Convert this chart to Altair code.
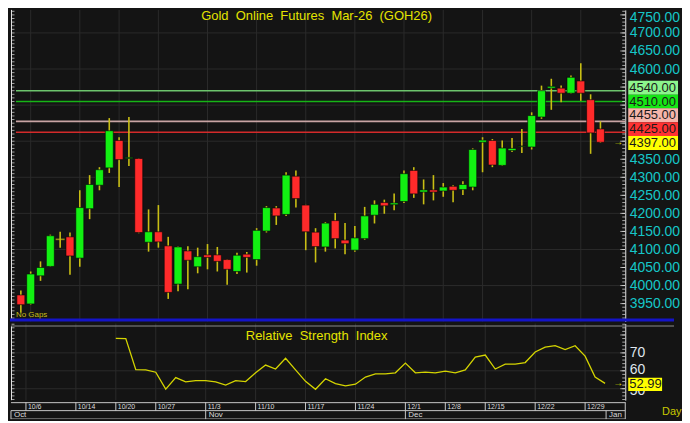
import altair as alt
import pandas as pd

# ---------------- data ----------------
opens = [3974, 3949, 4027, 4053, 4128, 4135, 4076, 4213, 4278, 4326,
         4402, 4352, 4352, 4120, 4149, 4110, 4004, 4096, 4052, 4085,
         4085, 4072, 4039, 4087, 4072, 4151, 4215, 4197, 4303, 4223,
         4148, 4107, 4180, 4126, 4098, 4130, 4195, 4230, 4224, 4233,
         4319, 4259, 4265, 4262, 4275, 4266, 4273, 4397, 4402, 4333,
         4374, 4385, 4384, 4467, 4547, 4547, 4533, 4567, 4515, 4434]
highs = [3986, 4039, 4067, 4141, 4149, 4147, 4264, 4306, 4328, 4464,
         4411, 4467, 4353, 4211, 4223, 4135, 4108, 4109, 4105, 4115,
         4107, 4073, 4091, 4093, 4159, 4220, 4220, 4314, 4319, 4224,
         4159, 4176, 4201, 4173, 4165, 4218, 4236, 4238, 4255, 4319,
         4328, 4294, 4306, 4284, 4278, 4289, 4380, 4411, 4406, 4402,
         4409, 4434, 4480, 4554, 4573, 4554, 4582, 4616, 4530, 4455]
lows = [3925, 3947, 4013, 4052, 4105, 4030, 4052, 4184, 4264, 4312,
        4273, 4331, 4145, 4094, 4105, 3963, 3984, 3990, 4034, 4045,
        4039, 4002, 4032, 4036, 4055, 4147, 4168, 4193, 4216, 4098,
        4064, 4094, 4103, 4087, 4094, 4127, 4172, 4199, 4209, 4229,
        4243, 4225, 4236, 4246, 4231, 4251, 4264, 4314, 4328, 4331,
        4370, 4367, 4377, 4462, 4487, 4508, 4532, 4512, 4365, 4395]
closes = [3947, 4032, 4050, 4138, 4128, 4082, 4216, 4280, 4321, 4429,
          4349, 4355, 4147, 4149, 4121, 3981, 4107, 4070, 4080, 4078,
          4067, 4045, 4084, 4078, 4153, 4216, 4193, 4306, 4241, 4149,
          4108, 4173, 4130, 4116, 4132, 4193, 4225, 4221, 4229, 4310,
          4254, 4265, 4259, 4273, 4264, 4280, 4377, 4403, 4334, 4381,
          4380, 4387, 4471, 4540, 4552, 4533, 4577, 4533, 4423, 4397]

rsi_first_bar = 10
rsi_values = [78.1, 78.0, 60.6, 60.5, 59.2, 49.8, 56.2, 53.8, 54.5, 54.5,
              53.8, 52.0, 54.5, 54.0, 58.9, 63.2, 61.0, 67.0, 60.5, 54.1,
              49.7, 55.6, 52.9, 51.6, 52.5, 56.5, 58.3, 58.3, 58.9, 64.3,
              58.9, 59.3, 58.9, 59.8, 58.9, 60.5, 67.7, 68.8, 61.0, 63.7,
              63.7, 64.6, 70.5, 73.2, 74.0, 71.8, 74.0, 68.2, 56.5, 52.99]

date_tick_bars = [1, 6, 10, 14, 19, 24, 29, 34, 39, 43, 47, 52, 57]
date_tick_labels = ["10/6", "10/14", "10/20", "10/27", "11/3", "11/10", "11/17",
                    "11/24", "12/1", "12/8", "12/15", "12/22", "12/29"]
month_tick_bars = [-0.5, 19, 39, 59.1]
month_labels = ["Oct", "Nov", "Dec", "Jan"]

level_prices = [4540, 4510, 4455, 4425]
level_labels = ["4540.00", "4510.00", "4455.00", "4425.00"]
last_price = 4397
last_price_label = "4397.00"
last_rsi = 52.99
last_rsi_label = "52.99"

price_axis_labels = [3950, 4000, 4050, 4100, 4150, 4200, 4250, 4300, 4350,
                     4600, 4650, 4700, 4750]
price_grid = [4000, 4100, 4200, 4300, 4400, 4500, 4600, 4700]
price_minor_ticks = list(range(3910, 4770, 10))
price_major_ticks = list(range(3950, 4800, 50))
rsi_axis_labels = [50, 60, 70]
rsi_grid = [50, 60, 70]
rsi_minor_ticks = list(range(44, 88, 2))
rsi_major_ticks = [50, 60, 70, 80]

title_text = "Gold\u00a0\u00a0Online\u00a0\u00a0Futures\u00a0\u00a0Mar-26\u00a0\u00a0(GOH26)"
rsi_title_text = "Relative\u00a0\u00a0Strength\u00a0\u00a0Index"
no_gaps_text = "No Gaps"
period_text = "Day"

# ---------------- styles ----------------
W = 617
H_PRICE = 313
H_RSI = 77
H_DATE = 17
PX_PER_USD = 0.3625          # vertical pixels per price unit of the price scale
PX_PER_RSI = 1.8             # vertical pixels per RSI unit
BG = "#141414"
GRID = "#2a2a2a"
FONT = "Liberation Sans"
CYAN = "#16c6c8"
YELLOW_TXT = "#e4e400"
WICK = "#c8be14"
GREEN = "#12f012"
RED = "#ff2a2a"
AXIS_WHITE = "#e6e6e6"
level_line_colors = ["#6cc46c", "#16b416", "#c8a4a4", "#d42a2a"]
box_fills = ["#8cf58c", "#14e614", "#f5b4aa", "#ff3232", "#ffff00"]
box_nudge_px = [-2.9, 0.1, -6.2, -2.9, 0.8]   # label boxes stacked to avoid overlap
BOX_HALF_PX = 7.0
rsi_box_nudge_px = 1.0

x_scale = alt.Scale(domain=[-0.4985, 61.02], nice=False, zero=False)
p_scale = alt.Scale(domain=[3900.34, 4763.79], nice=False, zero=False)
r_scale = alt.Scale(domain=[43.61, 86.39], nice=False, zero=False)

p_axis = alt.Axis(orient="right", values=price_axis_labels, format=".2f", title=None,
                  labelColor=CYAN, labelFont=FONT, labelFontSize=14, labelPadding=4,
                  labelOffset={"condition": {"test": "datum.value === 4750", "value": 2.2},
                               "value": 0},
                  domainColor=AXIS_WHITE, ticks=False, grid=False, labelOverlap=False)
r_axis = alt.Axis(orient="right", values=rsi_axis_labels, format="d", title=None,
                  labelColor="#dfe6ee", labelFont=FONT, labelFontSize=14, labelPadding=4,
                  labelOffset={"condition": [{"test": "datum.value === 50", "value": 2},
                                             {"test": "datum.value === 60", "value": -1}],
                               "value": 0},
                  domainColor=AXIS_WHITE, ticks=False, grid=False, labelOverlap=False)


def X(f):
    return alt.X(f, type="quantitative", scale=x_scale, axis=None)


def YP(f):
    return alt.Y(f, type="quantitative", scale=p_scale, axis=p_axis)


def YR(f):
    return alt.Y(f, type="quantitative", scale=r_scale, axis=r_axis)


bars = pd.DataFrame({"bar": list(range(len(opens))), "open": opens, "high": highs,
                     "low": lows, "close": closes})
rsi_df = pd.DataFrame({"bar": list(range(rsi_first_bar, rsi_first_bar + len(rsi_values))),
                       "rsi": rsi_values})
dates_df = pd.DataFrame({"bar": date_tick_bars, "label": date_tick_labels})
months_df = pd.DataFrame({"bar": month_tick_bars, "label": month_labels})
levels_df = pd.DataFrame({"price": level_prices, "col": level_line_colors})
boxes_df = pd.DataFrame({"price": level_prices + [last_price],
                         "label": level_labels + [last_price_label],
                         "fill": box_fills, "nudge": box_nudge_px})
one = pd.DataFrame({"k": [0]})

# ---------------- price panel ----------------
p_grid = alt.Chart(pd.DataFrame({"p": price_grid})).mark_rule(color=GRID).encode(y=YP("p"))
v_grid = alt.Chart(dates_df).mark_rule(color=GRID).encode(x=X("bar"))
left_line = alt.Chart(one).mark_rule(color=AXIS_WHITE).encode(
    x=alt.value(0.5), y=alt.value(0), y2=alt.value(310))
left_ticks = alt.Chart(pd.DataFrame({"p": price_minor_ticks})).mark_tick(
    color=AXIS_WHITE, thickness=1, size=3, orient="horizontal").encode(
    y=YP("p"), x=alt.value(2))
levels = alt.Chart(levels_df).mark_rule(strokeWidth=1.6).encode(
    y=YP("price"), x=alt.value(5), x2=alt.value(W),
    color=alt.Color("col:N", scale=None))
wicks = alt.Chart(bars).mark_rule(color=WICK, strokeWidth=1.6).encode(
    x=X("bar"), y=YP("low"), y2="high")
bodies = alt.Chart(bars).transform_filter("datum.open != datum.close").mark_bar(
    size=8, stroke="#060606", strokeWidth=0.6).encode(
    x=X("bar"), y=YP("open"), y2="close",
    color=alt.condition("datum.close > datum.open", alt.value(GREEN), alt.value(RED)))
dojis = alt.Chart(bars).transform_filter("datum.open == datum.close").mark_tick(
    color=WICK, thickness=1.6, size=9, orient="horizontal").encode(
    x=X("bar"), y=YP("close"))
r_minor = alt.Chart(pd.DataFrame({"p": price_minor_ticks})).mark_tick(
    color=AXIS_WHITE, thickness=1, size=3, orient="horizontal").encode(
    y=YP("p"), x=alt.value(W - 1.5))
r_major = alt.Chart(pd.DataFrame({"p": price_major_ticks})).mark_tick(
    color=AXIS_WHITE, thickness=1, size=5, orient="horizontal").encode(
    y=YP("p"), x=alt.value(W - 2.5))
boxes_base = alt.Chart(boxes_df).transform_calculate(
    c=f"datum.price - datum.nudge / {PX_PER_USD}").transform_calculate(
    lo=f"datum.c - {BOX_HALF_PX} / {PX_PER_USD}", hi=f"datum.c + {BOX_HALF_PX} / {PX_PER_USD}")
boxes = boxes_base.mark_rect().encode(
    x=alt.value(W + 3), x2=alt.value(W + 53), y=YP("lo"), y2="hi",
    color=alt.Color("fill:N", scale=None))
box_text = boxes_base.mark_text(
    align="left", baseline="middle", font=FONT, fontSize=13, color="#1a1a1a").encode(
    x=alt.value(W + 4), y=YP("c"), text="label:N")
arrow_p = alt.Chart(pd.DataFrame({"p": [last_price], "t": ["→"]})).mark_text(
    color=YELLOW_TXT, fontSize=10, align="center", baseline="middle").encode(
    x=alt.value(W - 7), y=YP("p"), text="t:N")
title = alt.Chart(pd.DataFrame({"t": [title_text]})).mark_text(
    font=FONT, fontSize=13, color=YELLOW_TXT, align="center", baseline="top").encode(
    x=alt.value(307), y=alt.value(0), text="t:N")
no_gaps = alt.Chart(pd.DataFrame({"t": [no_gaps_text]})).mark_text(
    font=FONT, fontSize=8, color=WICK, align="left", baseline="middle").encode(
    x=alt.value(5), y=alt.value(306), text="t:N")
blue_sep = alt.Chart(one).mark_rule(color="#1414c8", strokeWidth=3).encode(
    x=alt.value(-1), x2=alt.value(666), y=alt.value(311.5))

price_chart = alt.layer(
    p_grid, v_grid, left_line, left_ticks, levels, wicks, bodies, dojis,
    r_minor, r_major, boxes, box_text, arrow_p, title, no_gaps, blue_sep
).properties(width=W, height=H_PRICE)

# ---------------- RSI panel ----------------
rg = alt.Chart(pd.DataFrame({"r": rsi_grid})).mark_rule(color=GRID).encode(y=YR("r"))
rvg = alt.Chart(dates_df).mark_rule(color=GRID).encode(x=X("bar"))
r_top = alt.Chart(one).mark_rule(color="#8a8a8a").encode(
    x=alt.value(0), x2=alt.value(666), y=alt.value(2.5))
r_left = alt.Chart(one).mark_rule(color=AXIS_WHITE).encode(
    x=alt.value(0.5), y=alt.value(3), y2=alt.value(H_RSI))
r_left_ticks = alt.Chart(pd.DataFrame({"r": rsi_minor_ticks})).mark_tick(
    color=AXIS_WHITE, thickness=1, size=3, orient="horizontal").encode(
    y=YR("r"), x=alt.value(2))
r_line = alt.Chart(rsi_df).mark_line(color="#d4d400", strokeWidth=1.3).encode(
    x=X("bar"), y=YR("rsi"))
rr_minor = alt.Chart(pd.DataFrame({"r": rsi_minor_ticks})).mark_tick(
    color=AXIS_WHITE, thickness=1, size=3, orient="horizontal").encode(
    y=YR("r"), x=alt.value(W - 1.5))
rr_major = alt.Chart(pd.DataFrame({"r": rsi_major_ticks})).mark_tick(
    color=AXIS_WHITE, thickness=1, size=5, orient="horizontal").encode(
    y=YR("r"), x=alt.value(W - 2.5))
r_title = alt.Chart(pd.DataFrame({"t": [rsi_title_text]})).mark_text(
    font=FONT, fontSize=13, color=YELLOW_TXT, align="center", baseline="middle").encode(
    x=alt.value(307), y=alt.value(12.5), text="t:N")
rsi_box_df = pd.DataFrame({"r": [last_rsi], "label": [last_rsi_label], "t": ["→"]})
r_box_base = alt.Chart(rsi_box_df).transform_calculate(
    c=f"datum.r - {rsi_box_nudge_px} / {PX_PER_RSI}").transform_calculate(
    lo=f"datum.c - 6.6 / {PX_PER_RSI}", hi=f"datum.c + 6.6 / {PX_PER_RSI}")
r_box = r_box_base.mark_rect(color="#ffff00").encode(
    x=alt.value(W + 3), x2=alt.value(W + 37), y=YR("lo"), y2="hi")
r_box_text = r_box_base.mark_text(
    align="left", baseline="middle", font=FONT, fontSize=13, color="#1a1a1a").encode(
    x=alt.value(W + 4), y=YR("c"), text="label:N")
r_arrow = alt.Chart(rsi_box_df).mark_text(
    color=YELLOW_TXT, fontSize=10, align="center", baseline="middle").encode(
    x=alt.value(W - 7), y=YR("r"), text="t:N")

rsi_chart = alt.layer(
    rg, rvg, r_top, r_left, r_left_ticks, r_line, rr_minor, rr_major,
    r_title, r_box, r_box_text, r_arrow
).properties(width=W, height=H_RSI)

# ---------------- date rows ----------------
ROW_COL = "#c8c8c8"
d_top = alt.Chart(one).mark_rule(color=ROW_COL).encode(
    x=alt.value(0), x2=alt.value(W), y=alt.value(0.5))
d_mid = alt.Chart(one).mark_rule(color=ROW_COL).encode(
    x=alt.value(0), x2=alt.value(W), y=alt.value(8.5))
d_bot = alt.Chart(one).mark_rule(color="#6a6a6a").encode(
    x=alt.value(0), x2=alt.value(W), y=alt.value(16.5))
d_right = alt.Chart(one).mark_rule(color=ROW_COL).encode(
    x=alt.value(W), y=alt.value(0), y2=alt.value(H_DATE))
d_sep = alt.Chart(dates_df).mark_rule(color=ROW_COL).encode(
    x=X("bar"), y=alt.value(0), y2=alt.value(8.5))
d_lab = alt.Chart(dates_df).mark_text(
    align="left", baseline="middle", dx=2, font=FONT, fontSize=7, color="#dcdcdc").encode(
    x=X("bar"), y=alt.value(4.8), text="label:N")
m_sep = alt.Chart(months_df).mark_rule(color=ROW_COL).encode(
    x=X("bar"), y=alt.value(8.5), y2=alt.value(H_DATE))
m_lab = alt.Chart(months_df).mark_text(
    align="left", baseline="middle", dx=3, font=FONT, fontSize=8, color="#dcdcdc").encode(
    x=X("bar"), y=alt.value(13), text="label:N")
day_txt = alt.Chart(pd.DataFrame({"t": [period_text]})).mark_text(
    align="left", baseline="middle", font=FONT, fontSize=11, color="#c8c800").encode(
    x=alt.value(654), y=alt.value(10), text="t:N")

date_chart = alt.layer(
    d_top, d_mid, d_bot, d_right, d_sep, d_lab, m_sep, m_lab, day_txt
).properties(width=W, height=H_DATE)

chart = alt.vconcat(price_chart, rsi_chart, date_chart, spacing=0).properties(
    background=BG, padding=0
).configure_view(stroke=None)

chart.save("out.html", embed_options={"renderer": "svg", "actions": False})
